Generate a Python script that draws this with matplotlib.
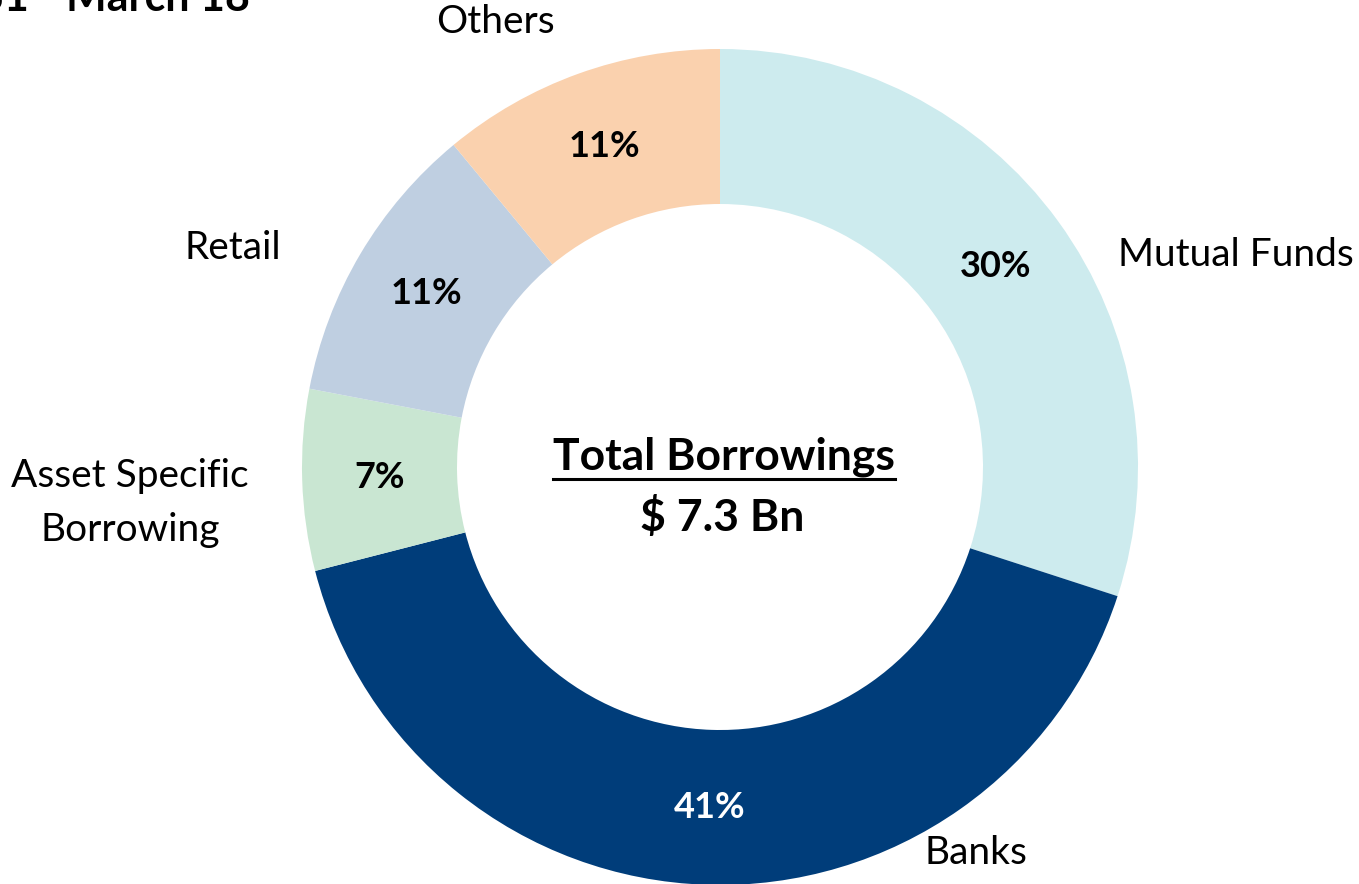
import matplotlib
matplotlib.use("Agg")
import matplotlib.pyplot as plt
from matplotlib.lines import Line2D

# Borrowing mix
categories = ["Mutual Funds", "Banks", "Asset Specific\nBorrowing", "Retail", "Others"]
shares = [30, 41, 7, 11, 11]
colors = ["#CDEBEE", "#003D7A", "#C9E6D2", "#BFCFE1", "#FAD1AE"]
pct_colors = ["black", "white", "black", "black", "black"]
center_title = "Total Borrowings"
center_value = "$ 7.3 Bn"
heading = "31 - March 18"

W, H = 1359, 884
CX, CY, R = 720, 467, 418


def px(x, y):
    """Pixel position -> data coordinates (unit = outer radius)."""
    return (x - CX) / R, (CY - y) / R


plt.rcParams["font.family"] = ["Lato", "DejaVu Sans"]
fig = plt.figure(figsize=(W / 100, H / 100), dpi=100)
ax = fig.add_axes([0, 0, 1, 1])
ax.axis("off")

wedges, _, autotexts = ax.pie(
    shares, colors=colors, startangle=90, counterclock=False, radius=1,
    wedgeprops=dict(width=1 - 263 / 418, linewidth=0),
    autopct=lambda p: f"{p:.0f}%", pctdistance=0.815,
    textprops=dict(fontsize=26, fontweight="bold"),
    frame=False,
)
ax.set_xlim(-CX / R, (W - CX) / R)
ax.set_ylim(-(H - CY) / R, CY / R)
ax.set_aspect("auto")
for t, c in zip(autotexts, pct_colors):
    t.set_color(c)

# Category labels around the ring
label_pos = [
    (1118, 255, "left"),
    (925, 853, "left"),
    (130, 503, "center"),
    (233, 248, "center"),
    (495, 22, "center"),
]
for name, (x, y, ha) in zip(categories, label_pos):
    ax.text(*px(x, y), name, ha=ha, va="center", fontsize=28,
            linespacing=1.65)

# Centre caption
t1 = ax.text(*px(724, 457), center_title, ha="center", va="center",
             fontsize=32, fontweight="bold")
ax.text(*px(722, 517), center_value, ha="center", va="center",
         fontsize=32, fontweight="bold")
fig.canvas.draw()
bb = t1.get_window_extent()
uy = H - 479
fig.add_artist(Line2D([bb.x0 / W, bb.x1 / W], [uy / H, uy / H],
                      transform=fig.transFigure, color="black", lw=2.2))

# Heading, partly outside the canvas
fig.text(250 / W, 1 - 11 / H, heading, ha="right", va="baseline",
         fontsize=31, fontweight="bold")

fig.savefig("out.png", dpi=100)
